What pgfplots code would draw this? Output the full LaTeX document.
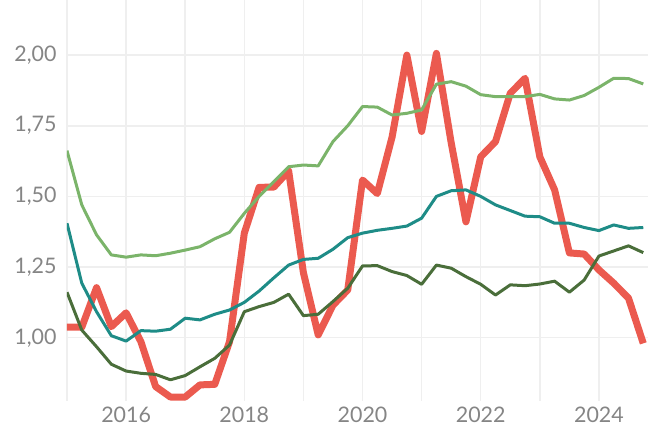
\documentclass[border=0pt]{standalone}
\usepackage{pgfplots}
\pgfplotsset{compat=1.18}
\usepackage{fontspec}
\setmainfont{Lato}
\definecolor{cred}{HTML}{EB5A4F}
\definecolor{clgreen}{HTML}{7BB46A}
\definecolor{cteal}{HTML}{1E8C87}
\definecolor{cdgreen}{HTML}{4A6E3A}
\definecolor{cgrid}{HTML}{EFEFEF}
\definecolor{ctext}{HTML}{858585}
\begin{document}
\begin{tikzpicture}
\begin{axis}[
  scale only axis,
  width=581bp, height=401bp,
  xmin=2015, xmax=2024.83,
  ymin=0.776, ymax=2.195,
  axis line style={draw=none},
  xtick={2016,2018,2020,2022,2024},
  minor xtick={2015,2017,2019,2021,2023},
  ytick={1,1.25,1.5,1.75,2},
  grid=both,
  major grid style={cgrid, line width=1.5bp},
  minor grid style={cgrid, line width=1.5bp},
  major tick length=0pt, minor tick length=0pt,
  tick style={draw=none},
  xticklabel style={/pgf/number format/1000 sep={}, font=\fontsize{21.5}{25}\selectfont, text=ctext, yshift=-2bp},
  yticklabel style={/pgf/number format/fixed, /pgf/number format/fixed zerofill, /pgf/number format/precision=2, /pgf/number format/use comma, font=\fontsize{21.5}{25}\selectfont, text=ctext, xshift=-7bp},
  /pgf/number format/assume math mode=true,
  xticklabel={\pgfmathprintnumber[1000 sep={}]{\tick}},
  clip=true,
]
\coordinate (bl) at (rel axis cs:0,0);
\coordinate (tr) at (rel axis cs:1,1);
% red
\addplot[cred, line width=7bp, line join=round, no markers] coordinates {
(2015.00,1.037)(2015.25,1.037)(2015.50,1.177)(2015.75,1.039)(2016.00,1.088)(2016.25,0.986)(2016.50,0.827)(2016.75,0.79)(2017.00,0.79)(2017.25,0.833)(2017.50,0.835)(2017.75,0.986)
(2018.00,1.37)(2018.25,1.532)(2018.50,1.533)(2018.75,1.59)(2019.00,1.23)(2019.25,1.01)(2019.50,1.115)(2019.75,1.169)
(2020.00,1.558)(2020.25,1.51)(2020.50,1.71)(2020.75,2.00)(2021.00,1.73)(2021.25,2.006)(2021.50,1.69)(2021.75,1.41)
(2022.00,1.64)(2022.25,1.694)(2022.50,1.865)(2022.75,1.918)(2023.00,1.64)(2023.25,1.523)(2023.50,1.30)(2023.75,1.296)
(2024.00,1.24)(2024.25,1.193)(2024.50,1.14)(2024.75,0.98)
};
% light green
\addplot[clgreen, line width=3bp, line join=round, no markers] coordinates {
(2015.00,1.662)(2015.25,1.47)(2015.50,1.364)(2015.75,1.293)(2016.00,1.285)(2016.25,1.293)(2016.50,1.29)(2016.75,1.299)(2017.00,1.31)(2017.25,1.322)(2017.50,1.35)(2017.75,1.373)
(2018.00,1.44)(2018.25,1.50)(2018.50,1.552)(2018.75,1.605)(2019.00,1.611)(2019.25,1.608)(2019.50,1.694)(2019.75,1.75)
(2020.00,1.818)(2020.25,1.816)(2020.50,1.788)(2020.75,1.794)(2021.00,1.806)(2021.25,1.897)(2021.50,1.906)(2021.75,1.89)
(2022.00,1.86)(2022.25,1.853)(2022.50,1.853)(2022.75,1.853)(2023.00,1.861)(2023.25,1.845)(2023.50,1.841)(2023.75,1.857)
(2024.00,1.886)(2024.25,1.918)(2024.50,1.917)(2024.75,1.898)
};
% teal
\addplot[cteal, line width=3bp, line join=round, no markers] coordinates {
(2015.00,1.405)(2015.25,1.193)(2015.50,1.092)(2015.75,1.007)(2016.00,0.988)(2016.25,1.025)(2016.50,1.023)(2016.75,1.03)(2017.00,1.069)(2017.25,1.063)(2017.50,1.083)(2017.75,1.098)
(2018.00,1.125)(2018.25,1.165)(2018.50,1.212)(2018.75,1.257)(2019.00,1.277)(2019.25,1.281)(2019.50,1.313)(2019.75,1.354)
(2020.00,1.37)(2020.25,1.38)(2020.50,1.387)(2020.75,1.395)(2021.00,1.423)(2021.25,1.50)(2021.50,1.52)(2021.75,1.523)
(2022.00,1.50)(2022.25,1.47)(2022.50,1.45)(2022.75,1.43)(2023.00,1.428)(2023.25,1.405)(2023.50,1.405)(2023.75,1.39)
(2024.00,1.379)(2024.25,1.399)(2024.50,1.387)(2024.75,1.39)
};
% dark green
\addplot[cdgreen, line width=3bp, line join=round, no markers] coordinates {
(2015.00,1.161)(2015.25,1.027)(2015.50,0.968)(2015.75,0.906)(2016.00,0.882)(2016.25,0.874)(2016.50,0.87)(2016.75,0.851)(2017.00,0.866)(2017.25,0.897)(2017.50,0.927)(2017.75,0.974)
(2018.00,1.092)(2018.25,1.11)(2018.50,1.125)(2018.75,1.154)(2019.00,1.078)(2019.25,1.083)(2019.50,1.128)(2019.75,1.175)
(2020.00,1.254)(2020.25,1.255)(2020.50,1.234)(2020.75,1.22)(2021.00,1.189)(2021.25,1.257)(2021.50,1.246)(2021.75,1.216)
(2022.00,1.189)(2022.25,1.151)(2022.50,1.187)(2022.75,1.184)(2023.00,1.19)(2023.25,1.20)(2023.50,1.161)(2023.75,1.204)
(2024.00,1.289)(2024.25,1.307)(2024.50,1.325)(2024.75,1.301)
};
\end{axis}
\pgfresetboundingbox
\path ([shift={(-67bp,-29bp)}]bl) rectangle (tr);
\end{tikzpicture}
\end{document}
